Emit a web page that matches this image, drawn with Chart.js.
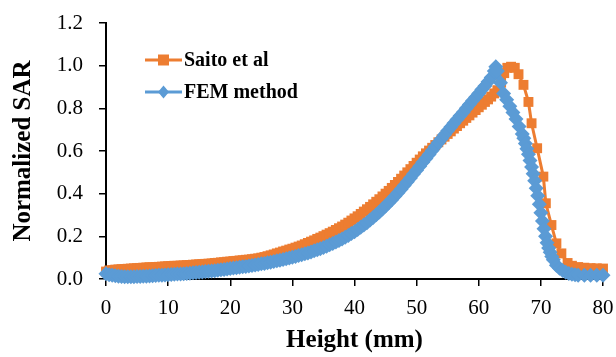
<!DOCTYPE html>
<html>
<head>
<meta charset="utf-8">
<script src="https://cdn.jsdelivr.net/npm/chart.js"></script>
<style>
  body { margin: 0; background: #fff; }
  #wrap { width: 616px; height: 357px; position: relative; }
</style>
</head>
<body>
<div id="wrap"><canvas id="sarChart"></canvas></div>
<script>
// Saito et al (orange squares)
const saitoHeight = [
  0, 0.5, 1, 1.5, 2, 2.5, 3, 3.5, 4, 4.5, 5, 5.5, 6, 6.5, 7, 7.5, 8, 8.5, 9, 9.5,
  10, 10.5, 11, 11.5, 12, 12.5, 13, 13.5, 14, 14.5, 15, 15.5, 16, 16.5, 17, 17.5, 18, 18.5, 19, 19.5,
  20, 20.5, 21, 21.5, 22, 22.5, 23, 23.5, 24, 24.5, 25, 25.5, 26, 26.5, 27, 27.5, 28, 28.5, 29, 29.5,
  30, 30.5, 31, 31.5, 32, 32.5, 33, 33.5, 34, 34.5, 35, 35.5, 36, 36.5, 37, 37.5, 38, 38.5, 39, 39.5,
  40, 40.5, 41, 41.5, 42, 42.5, 43, 43.5, 44, 44.5, 45, 45.5, 46, 46.5, 47, 47.5, 48, 48.5, 49, 49.5,
  50, 50.5, 51, 51.5, 52, 52.5, 53, 53.5, 54, 54.5, 55, 55.5, 56, 56.5, 57, 57.5, 58, 58.5, 59, 59.5,
  60, 60.5, 61, 61.5, 62, 62.5, 63,
  63.6, 64.1, 64.6, 65.2, 65.8, 66.4, 67.2, 68, 68.5, 69.4, 70.4, 70.8, 71.7, 72.5, 73.3, 74.3,
  75, 76, 77, 78, 79, 80, 81
];
const saitoSAR = [
  0.035, 0.040, 0.042, 0.044, 0.045, 0.046, 0.047, 0.048, 0.049, 0.050, 0.051, 0.052, 0.053, 0.054, 0.055, 0.055, 0.056, 0.057, 0.058, 0.059,
  0.060, 0.061, 0.062, 0.062, 0.063, 0.064, 0.065, 0.066, 0.067, 0.068, 0.069, 0.070, 0.071, 0.072, 0.073, 0.075, 0.076, 0.078, 0.079, 0.081,
  0.082, 0.084, 0.085, 0.087, 0.088, 0.090, 0.091, 0.093, 0.095, 0.097, 0.100, 0.103, 0.107, 0.111, 0.115, 0.120, 0.124, 0.129, 0.133, 0.138,
  0.142, 0.147, 0.152, 0.157, 0.163, 0.169, 0.175, 0.181, 0.188, 0.194, 0.201, 0.208, 0.215, 0.222, 0.230, 0.238, 0.246, 0.255, 0.264, 0.274,
  0.284, 0.294, 0.305, 0.316, 0.327, 0.338, 0.350, 0.362, 0.374, 0.387, 0.400, 0.413, 0.427, 0.441, 0.455, 0.470, 0.485, 0.500, 0.515, 0.530,
  0.545, 0.560, 0.575, 0.589, 0.602, 0.615, 0.628, 0.641, 0.654, 0.667, 0.680, 0.692, 0.705, 0.717, 0.730, 0.742, 0.755, 0.767, 0.780, 0.792,
  0.805, 0.817, 0.830, 0.842, 0.855, 0.870, 0.885,
  0.920, 0.965, 0.990, 0.995, 0.990, 0.960, 0.910, 0.830, 0.730, 0.613, 0.480, 0.355, 0.253, 0.167, 0.120, 0.075,
  0.062, 0.056, 0.053, 0.051, 0.050, 0.049, 0.048
];

// FEM method (blue diamonds)
const femHeight = [
  0, 0.5, 1, 1.5, 2, 2.5, 3, 3.5, 4, 4.5, 5, 5.5, 6, 6.5, 7, 7.5, 8, 8.5, 9, 9.5,
  10, 10.5, 11, 11.5, 12, 12.5, 13, 13.5, 14, 14.5, 15, 15.5, 16, 16.5, 17, 17.5, 18, 18.5, 19, 19.5,
  20, 20.5, 21, 21.5, 22, 22.5, 23, 23.5, 24, 24.5, 25, 25.5, 26, 26.5, 27, 27.5, 28, 28.5, 29, 29.5,
  30, 30.5, 31, 31.5, 32, 32.5, 33, 33.5, 34, 34.5, 35, 35.5, 36, 36.5, 37, 37.5, 38, 38.5, 39, 39.5,
  40, 40.5, 41, 41.5, 42, 42.5, 43, 43.5, 44, 44.5, 45, 45.5, 46, 46.5, 47, 47.5, 48, 48.5, 49, 49.5,
  50, 50.5, 51, 51.5, 52, 52.5, 53, 53.5, 54, 54.5, 55, 55.5, 56, 56.5, 57, 57.5, 58, 58.5, 59, 59.5,
  60, 60.5, 61, 61.5, 62,
  62.5, 62.75, 63, 63.5, 64, 64.5, 65, 65.5, 66, 66.5,
  67, 67.25, 67.5, 67.75, 68, 68.25, 68.5, 68.75, 69, 69.25,
  69.5, 69.75, 70, 70.25, 70.5, 70.75, 71, 71.25, 71.5, 71.75,
  72, 72.5, 73, 73.5, 74, 74.5, 75, 75.5, 76, 77,
  78, 79, 80, 80.5
];
const femSAR = [
  0.025, 0.020, 0.017, 0.015, 0.013, 0.012, 0.011, 0.011, 0.011, 0.011, 0.012, 0.012, 0.013, 0.013, 0.014, 0.015, 0.016, 0.017, 0.018, 0.019,
  0.020, 0.021, 0.022, 0.023, 0.024, 0.025, 0.026, 0.027, 0.029, 0.030, 0.032, 0.033, 0.035, 0.036, 0.038, 0.039, 0.041, 0.043, 0.045, 0.047,
  0.049, 0.051, 0.053, 0.055, 0.057, 0.059, 0.061, 0.063, 0.066, 0.068, 0.071, 0.073, 0.076, 0.079, 0.082, 0.085, 0.088, 0.091, 0.095, 0.098,
  0.102, 0.106, 0.110, 0.114, 0.118, 0.122, 0.127, 0.132, 0.137, 0.142, 0.148, 0.154, 0.160, 0.166, 0.173, 0.180, 0.188, 0.196, 0.204, 0.213,
  0.222, 0.232, 0.242, 0.253, 0.264, 0.276, 0.288, 0.301, 0.314, 0.328, 0.342, 0.357, 0.372, 0.388, 0.404, 0.421, 0.438, 0.456, 0.474, 0.492,
  0.510, 0.528, 0.547, 0.565, 0.584, 0.602, 0.621, 0.640, 0.658, 0.676, 0.695, 0.712, 0.730, 0.748, 0.765, 0.782, 0.800, 0.818, 0.835, 0.852,
  0.870, 0.888, 0.905, 0.925, 0.945,
  0.975, 0.995, 0.975, 0.920, 0.870, 0.840, 0.810, 0.780, 0.750, 0.715,
  0.680, 0.660, 0.635, 0.610, 0.585, 0.556, 0.525, 0.493, 0.460, 0.425,
  0.390, 0.350, 0.310, 0.272, 0.235, 0.200, 0.170, 0.145, 0.125, 0.105,
  0.090, 0.065, 0.050, 0.040, 0.032, 0.026, 0.022, 0.020, 0.018, 0.017,
  0.017, 0.017, 0.017, 0.015
];

const serif = "'Liberation Serif', 'Times New Roman', serif";
const orange = '#ED7D31';
const blue = '#5B9BD5';

function toPoints(xs, ys) {
  return xs.map((x, i) => ({ x: x, y: ys[i] }));
}

// Excel style legend: short line with marker in the middle
const lineLegend = {
  id: 'lineLegend',
  afterDraw(chart) {
    const ctx = chart.ctx;
    const rows = [
      { ds: chart.data.datasets[0], y: 60 },
      { ds: chart.data.datasets[1], y: 92 }
    ];
    ctx.save();
    rows.forEach(r => {
      const c = r.ds.borderColor;
      ctx.strokeStyle = c;
      ctx.lineWidth = 3;
      ctx.beginPath();
      ctx.moveTo(145, r.y);
      ctx.lineTo(182, r.y);
      ctx.stroke();
      ctx.fillStyle = c;
      ctx.beginPath();
      if (r.ds.pointStyle === 'rect') {
        ctx.rect(158, r.y - 5.5, 11, 11);
      } else {
        ctx.moveTo(163.5, r.y - 6.5);
        ctx.lineTo(169, r.y);
        ctx.lineTo(163.5, r.y + 6.5);
        ctx.lineTo(158, r.y);
        ctx.closePath();
      }
      ctx.fill();
      ctx.fillStyle = '#000';
      ctx.font = 'bold 20px ' + serif;
      ctx.textAlign = 'left';
      ctx.textBaseline = 'middle';
      ctx.fillText(r.ds.label, 184, r.y + 1);
    });
    ctx.restore();
  }
};

new Chart(document.getElementById('sarChart'), {
  type: 'line',
  data: {
    datasets: [
      {
        label: 'Saito et al',
        data: toPoints(saitoHeight, saitoSAR),
        borderColor: orange,
        backgroundColor: orange,
        borderWidth: 3,
        pointStyle: 'rect',
        pointRadius: 7,
        pointBorderWidth: 0,
        order: 1,
        clip: false
      },
      {
        label: 'FEM method',
        data: toPoints(femHeight, femSAR),
        borderColor: blue,
        backgroundColor: blue,
        borderWidth: 5,
        pointStyle: 'rectRot',
        pointRadius: 7.5,
        pointBorderWidth: 0,
        order: 0,
        clip: false
      }
    ]
  },
  options: {
    responsive: true,
    maintainAspectRatio: false,
    animation: false,
    layout: { autoPadding: false, padding: { top: 23, right: 13, left: 0, bottom: 0 } },
    plugins: {
      legend: { display: false },
      tooltip: { enabled: false }
    },
    scales: {
      x: {
        type: 'linear',
        min: 0,
        max: 80,
        afterFit: s => {
          s.height = 78;
          s.paddingLeft = 0;
          s.paddingRight = 0;
        },
        ticks: {
          stepSize: 10,
          padding: 10,
          color: '#000',
          font: { family: serif, size: 21 }
        },
        grid: {
          drawOnChartArea: false,
          tickLength: 7,
          color: '#000',
          lineWidth: 1.5
        },
        border: { display: true, color: '#000', width: 2 },
        title: {
          display: true,
          text: 'Height (mm)',
          color: '#000',
          font: { family: serif, size: 25, weight: 'bold' },
          padding: { top: 0, bottom: 1.5 }
        }
      },
      y: {
        min: 0,
        max: 1.2,
        afterFit: s => {
          s.width = 106;
          s.paddingTop = 0;
          s.paddingBottom = 0;
        },
        ticks: {
          stepSize: 0.2,
          padding: 16,
          color: '#000',
          font: { family: serif, size: 21 },
          callback: v => v.toFixed(1)
        },
        grid: {
          drawOnChartArea: false,
          tickLength: 7,
          color: '#000',
          lineWidth: 1.5
        },
        border: { display: true, color: '#000', width: 2 },
        title: {
          display: true,
          text: 'Normalized SAR',
          color: '#000',
          font: { family: serif, size: 25, weight: 'bold' },
          padding: { top: 9, bottom: 0 }
        }
      }
    }
  },
  plugins: [lineLegend]
});
</script>
</body>
</html>
